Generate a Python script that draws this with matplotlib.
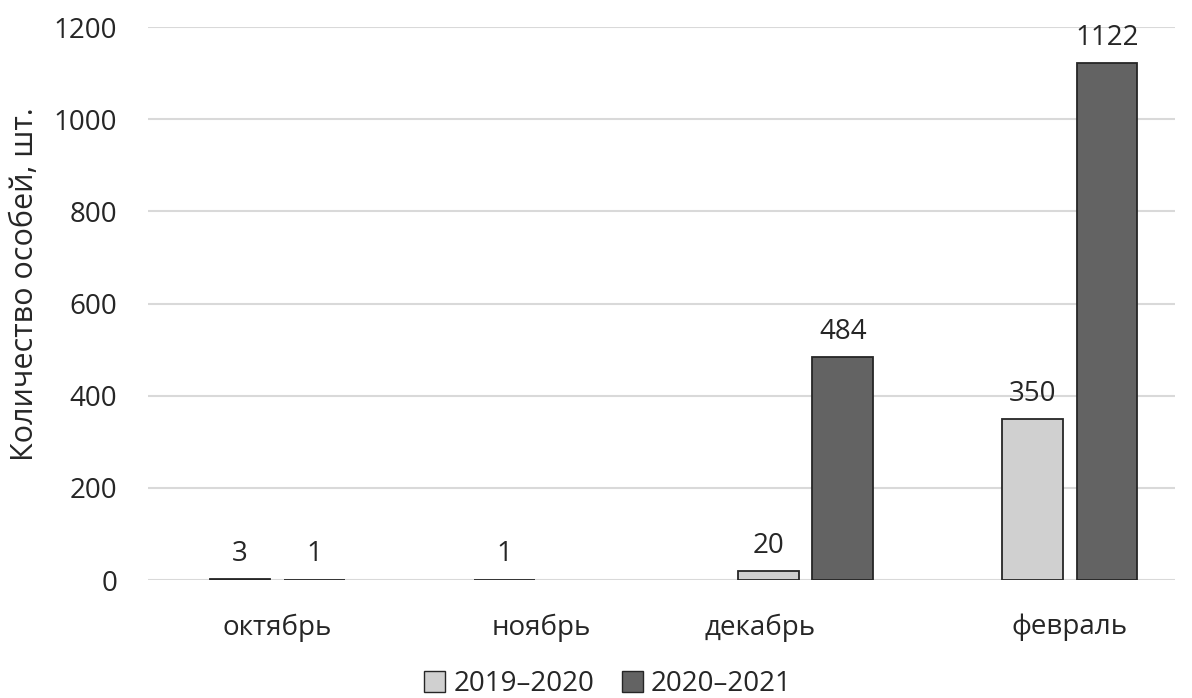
import matplotlib
matplotlib.use("Agg")
import matplotlib.pyplot as plt
import matplotlib.transforms as mtransforms
from matplotlib.patches import Patch
import numpy as np

plt.rcParams['font.family'] = ['Open Sans', 'DejaVu Sans']

months = ["октябрь", "ноябрь", "декабрь", "февраль"]
series_names = ["2019–2020", "2020–2021"]
values_2019_2020 = [3, 1, 20, 350]
values_2020_2021 = [1, None, 484, 1122]
y_ticks = [0, 200, 400, 600, 800, 1000, 1200]
y_label = "Количество особей, шт."

light = "#d0d0d0"
dark = "#636363"
edge = "#262626"
text_color = "#262626"
fs = 20

fig = plt.figure(figsize=(11.92, 6.98), dpi=100)
ax = fig.add_axes([0.124, 0.169, 0.862, 0.792])

x = np.arange(len(months))
width = 0.23
offset = 0.141

for vals, shift, color in ((values_2019_2020, -offset, light),
                           (values_2020_2021, offset, dark)):
    for xi, v in zip(x, vals):
        if v is None:
            continue
        ax.bar(xi + shift, v, width=width, color=color, edgecolor=edge,
               linewidth=1.3, zorder=3)
        ax.annotate(str(v), (xi + shift, v), xytext=(0, 8),
                    textcoords="offset points", ha="center", va="bottom",
                    fontsize=fs, color=text_color)

ax.set_ylim(0, 1200)
ax.set_xlim(-0.49, 3.40)
ax.set_yticks(y_ticks)
ax.set_yticklabels([str(t) for t in y_ticks], fontsize=fs, color=text_color)
ax.set_xticks(x)
ax.set_xticklabels(months, fontsize=fs, color=text_color)
ax.tick_params(axis='both', length=0)
ax.tick_params(axis='y', pad=22)
ax.tick_params(axis='x', pad=24)

# the December caption sits a little left of its group
dec_label = ax.get_xticklabels()[2]
dec_label.set_transform(dec_label.get_transform() +
                        mtransforms.ScaledTranslation(-0.45, 0, fig.dpi_scale_trans))

ax.grid(axis='y', color="#d9d9d9", linewidth=1.5, zorder=0)
for s in ax.spines.values():
    s.set_visible(False)

ax.set_ylabel(y_label, fontsize=22, color=text_color)
ax.yaxis.set_label_coords(-0.105, 0.535)

handles = [Patch(facecolor=light, edgecolor=edge, linewidth=1.0),
           Patch(facecolor=dark, edgecolor=edge, linewidth=1.0)]
fig.legend(handles, series_names, loc="lower center", ncol=2, frameon=False,
           fontsize=fs, bbox_to_anchor=(0.51, -0.024), borderpad=0.1,
           handlelength=0.75, handleheight=0.75, handletextpad=0.3,
           columnspacing=1.0, labelcolor=text_color)

fig.savefig("out.png", dpi=100)
